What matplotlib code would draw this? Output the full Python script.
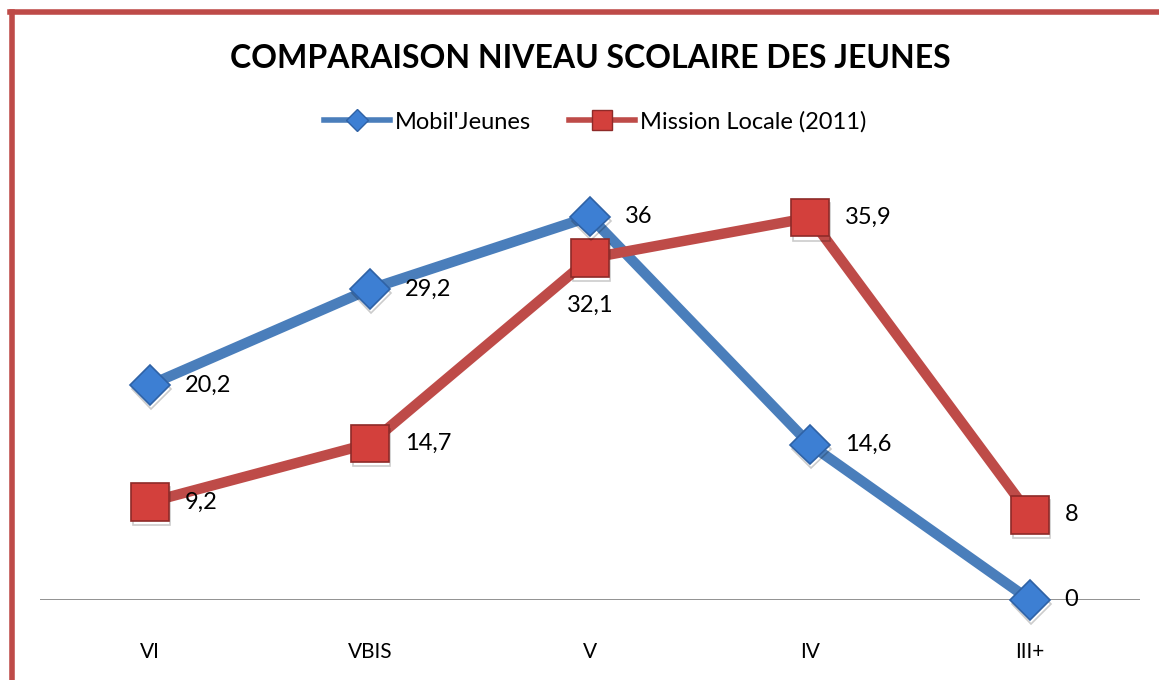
import matplotlib.pyplot as plt
import matplotlib.patheffects as pe
from matplotlib.lines import Line2D

plt.rcParams['font.family'] = ['Lato', 'DejaVu Sans']

# data
categories = ["VI", "VBIS", "V", "IV", "III+"]
mobil_jeunes = [20.2, 29.2, 36, 14.6, 0]
mission_locale = [9.2, 14.7, 32.1, 35.9, 8]

blue = "#4a7ebb"
red = "#be4b48"

fig = plt.figure(figsize=(11.59, 6.8), dpi=100)
ax = fig.add_axes([40 / 1159, 80 / 680, 1100 / 1159, 426 / 680])

x = list(range(len(categories)))
shadow = [pe.SimpleLineShadow(offset=(1, -3), alpha=0.2), pe.Normal()]

ax.axhline(0, color="#7f7f7f", lw=1.2, zorder=1)
ax.plot(x, mobil_jeunes, color=blue, lw=7.5, zorder=3, solid_capstyle="butt")
ax.plot(x, mission_locale, color=red, lw=7.5, zorder=3, solid_capstyle="butt")
ax.plot(x, mobil_jeunes, ls="none", marker="D", ms=20, mfc="#3d7fd3",
        mec="#2f62a5", mew=1.2, zorder=5, path_effects=shadow, clip_on=False)
ax.plot(x, mission_locale, ls="none", marker="s", ms=27, mfc="#d3403c",
        mec="#8e2a28", mew=1.2, zorder=4, path_effects=shadow, clip_on=False)

# data labels, decimal comma
def fmt(v):
    return ("%g" % v).replace(".", ",")

for i, v in enumerate(mobil_jeunes):
    ax.annotate(fmt(v), (i, v), xytext=(25, 0), textcoords="offset points",
                ha="left", va="center", fontsize=17, zorder=6)
for i, v in enumerate(mission_locale):
    if i == 2:
        ax.annotate(fmt(v), (i, v), xytext=(0, -34), textcoords="offset points",
                    ha="center", va="center", fontsize=17, zorder=6)
    else:
        ax.annotate(fmt(v), (i, v), xytext=(25, 0), textcoords="offset points",
                    ha="left", va="center", fontsize=17, zorder=6)

ax.set_xlim(-0.5, 4.5)
ax.set_ylim(0, 40)
for s in ax.spines.values():
    s.set_visible(False)
ax.set_yticks([])
ax.set_xticks(x)
ax.set_xticklabels(categories, fontsize=15)
ax.tick_params(axis="x", length=0, pad=30)
ax.patch.set_alpha(0)

fig.text(590 / 1159, 1 - 58 / 680, "COMPARAISON NIVEAU SCOLAIRE DES JEUNES",
         ha="center", va="center", fontsize=23, fontweight="bold")

handles = [
    Line2D([], [], color=blue, lw=4, marker="D", ms=11, mfc="#3d7fd3", mec="#2f62a5"),
    Line2D([], [], color=red, lw=4, marker="s", ms=14, mfc="#d3403c", mec="#8e2a28"),
]
fig.legend(handles, ["Mobil'Jeunes", "Mission Locale (2011)"], loc="center",
           bbox_to_anchor=(595 / 1159, 1 - 122 / 680), ncol=2, frameon=False,
           fontsize=17, handlelength=2.8, handletextpad=0.2, columnspacing=1.6)

# red frame on top and left edges
fig.add_artist(Line2D([12 / 1159, 12 / 1159], [0, 1 - 12 / 680],
                      transform=fig.transFigure, color=red, lw=4))
fig.add_artist(Line2D([10 / 1159, 1], [1 - 12 / 680, 1 - 12 / 680],
                      transform=fig.transFigure, color=red, lw=4))

fig.savefig("out.png", dpi=100, facecolor="white")
